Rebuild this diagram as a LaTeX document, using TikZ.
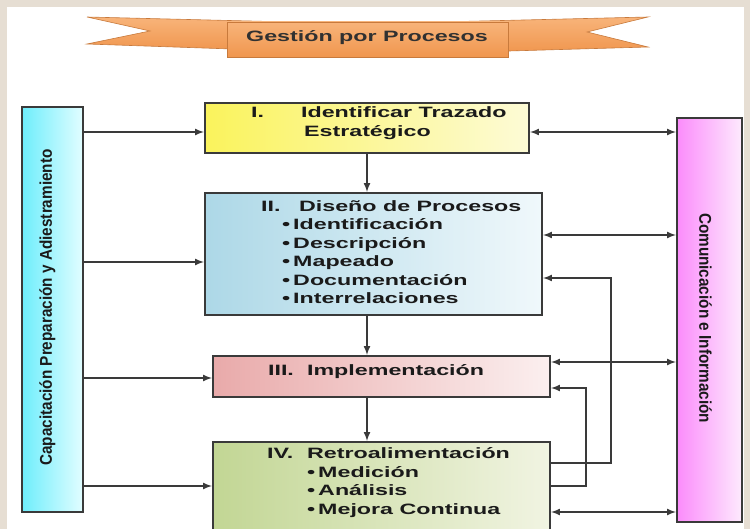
\documentclass[tikz,border=0pt]{standalone}
\usepackage{fontspec}
\setmainfont{Liberation Sans}
\newfontfamily\widefont[FakeStretch=1.55]{Liberation Sans}
\newfontfamily\narrowfont[FakeStretch=0.9]{Liberation Sans}
\usetikzlibrary{calc}
\definecolor{framebeige}{HTML}{E6DED3}
\definecolor{linegray}{HTML}{3A3A3A}
\definecolor{inkgray}{HTML}{1A1A1A}
\definecolor{bannerL}{HTML}{F8B47A}
\definecolor{bannerD}{HTML}{F0964E}
\definecolor{bannerE}{HTML}{C87A3C}
\definecolor{yellowL}{HTML}{FAF35C}
\definecolor{yellowR}{HTML}{FDFBD6}
\definecolor{blueL}{HTML}{ADD8E7}
\definecolor{blueR}{HTML}{F0F8FB}
\definecolor{roseL}{HTML}{E9AAAA}
\definecolor{roseR}{HTML}{FBEFEF}
\definecolor{greenL}{HTML}{C2D694}
\definecolor{greenR}{HTML}{F1F4E2}
\definecolor{cyanL}{HTML}{6EEEFC}
\definecolor{cyanR}{HTML}{E2FDFF}
\definecolor{pinkL}{HTML}{FB8CFB}
\definecolor{pinkR}{HTML}{FDEAFD}

\begin{document}
\begin{tikzpicture}[x=1pt, y=-1pt,
	procbox/.style={draw=linegray, line width=2.2pt, inner sep=0pt},
	boxtext/.style={font=\widefont\bfseries\fontsize{15}{18.5}\selectfont, text=inkgray, align=left, anchor=west, inner sep=0pt},
	bartext/.style={font=\narrowfont\bfseries\fontsize{17}{20}\selectfont, text=inkgray, inner sep=0pt},
	arr/.style={-latex, draw=linegray, line width=2pt},
	darr/.style={latex-latex, draw=linegray, line width=2pt}]
	\clip (0,0) rectangle (750,529);
	\fill[framebeige] (0,0) rectangle (750,529);
	\fill[white] (7,7) rectangle (744,529);
	
	% banner
	\shade[top color=bannerL, bottom color=bannerD, draw=bannerE, line width=0.6pt] (87,17) -- (290,22) -- (290,51) -- (87,44) -- (150,31) -- cycle;
	\shade[top color=bannerL, bottom color=bannerD, draw=bannerE, line width=0.6pt] (648,17) -- (587,32) -- (648,47) -- (440,53) -- (440,22) -- cycle;
	\shade[top color=bannerL, bottom color=bannerD, draw=bannerE, line width=0.6pt] (227,22) rectangle (508,57);
	\node[font=\widefont\bfseries\fontsize{15}{18}\selectfont, text=inkgray!90] (title) at (367,38) {Gestión por Procesos};
	
	% side bars
	\node[procbox, minimum width=61pt, minimum height=405pt, left color=cyanL, right color=cyanR] (lbar) at (52.5,309.5) {};
	\node[procbox, minimum width=65pt, minimum height=404pt, left color=pinkL, right color=pinkR] (rbar) at (709.5,320) {};
	\node[bartext, rotate=90] (lbartxt) at ($(lbar)+(-5,-2)$) {Capacitación Preparación y Adiestramiento};
	\node[bartext, rotate=-90] (rbartxt) at ($(rbar)+(-4,-2)$) {Comunicación e Información};
	
	% process boxes
	\node[procbox, minimum width=324pt, minimum height=50pt, left color=yellowL, right color=yellowR] (boxI) at (367,128) {};
	\node[procbox, minimum width=337pt, minimum height=122pt, left color=blueL, right color=blueR] (boxII) at (373.5,254) {};
	\node[procbox, minimum width=337pt, minimum height=41pt, left color=roseL, right color=roseR] (boxIII) at (381.5,376.5) {};
	\node[procbox, minimum width=337pt, minimum height=96pt, left color=greenL, right color=greenR] (boxIV) at (381.5,490) {};
	
	\node[boxtext] (txtI) at ($(boxI.west)+(47,-5)$) {\makebox[50pt][l]{I.}Identificar Trazado\\\hspace*{53pt}Estratégico};
	\node[boxtext] (txtII) at ($(boxII.west)+(57,-2)$) {\makebox[38pt][l]{II.}Diseño de Procesos\\
		\hspace*{21pt}•\hspace{3pt}Identificación\\\hspace*{21pt}•\hspace{3pt}Descripción\\\hspace*{21pt}•\hspace{3pt}Mapeado\\
		\hspace*{21pt}•\hspace{3pt}Documentación\\\hspace*{21pt}•\hspace{3pt}Interrelaciones};
	\node[boxtext] (txtIII) at ($(boxIII.west)+(56,-4.5)$) {\makebox[39pt][l]{III.}Implementación};
	\node[boxtext] (txtIV) at ($(boxIV.west)+(55,-7.5)$) {\makebox[40pt][l]{IV.}Retroalimentación\\
		\hspace*{40pt}•\hspace{3pt}Medición\\\hspace*{40pt}•\hspace{3pt}Análisis\\\hspace*{40pt}•\hspace{3pt}Mejora Continua};
	
	% flow down
	\foreach \a/\b in {boxI/boxII, boxII/boxIII, boxIII/boxIV} {
		\draw[arr] (boxI.south |- \a.south) -- (boxI.south |- \b.north);
	}
	
	% training bar feeds every stage
	\foreach \b/\dy in {boxI/4, boxII/8, boxIII/1.5, boxIV/-4} {
		\draw[arr] ($(lbar.east |- \b.west)+(0,\dy)$) -- ($(\b.west)+(0,\dy)$);
	}
	
	% communication both ways
	\foreach \b/\dy in {boxI/4, boxII/-19, boxIII/-14.5, boxIV/22} {
		\draw[darr] ($(\b.east)+(0,\dy)$) -- ($(rbar.west |- \b.east)+(0,\dy)$);
	}
	
	% feedback loops
	\draw[arr] ($(boxIV.east)+(0,-27)$) -- ++(60,0) |- ($(boxII.east)+(0,24)$);
	\draw[arr] ($(boxIV.east)+(0,-4)$) -- ++(35,0) |- ($(boxIII.east)+(0,11.5)$);
\end{tikzpicture}
\end{document}
